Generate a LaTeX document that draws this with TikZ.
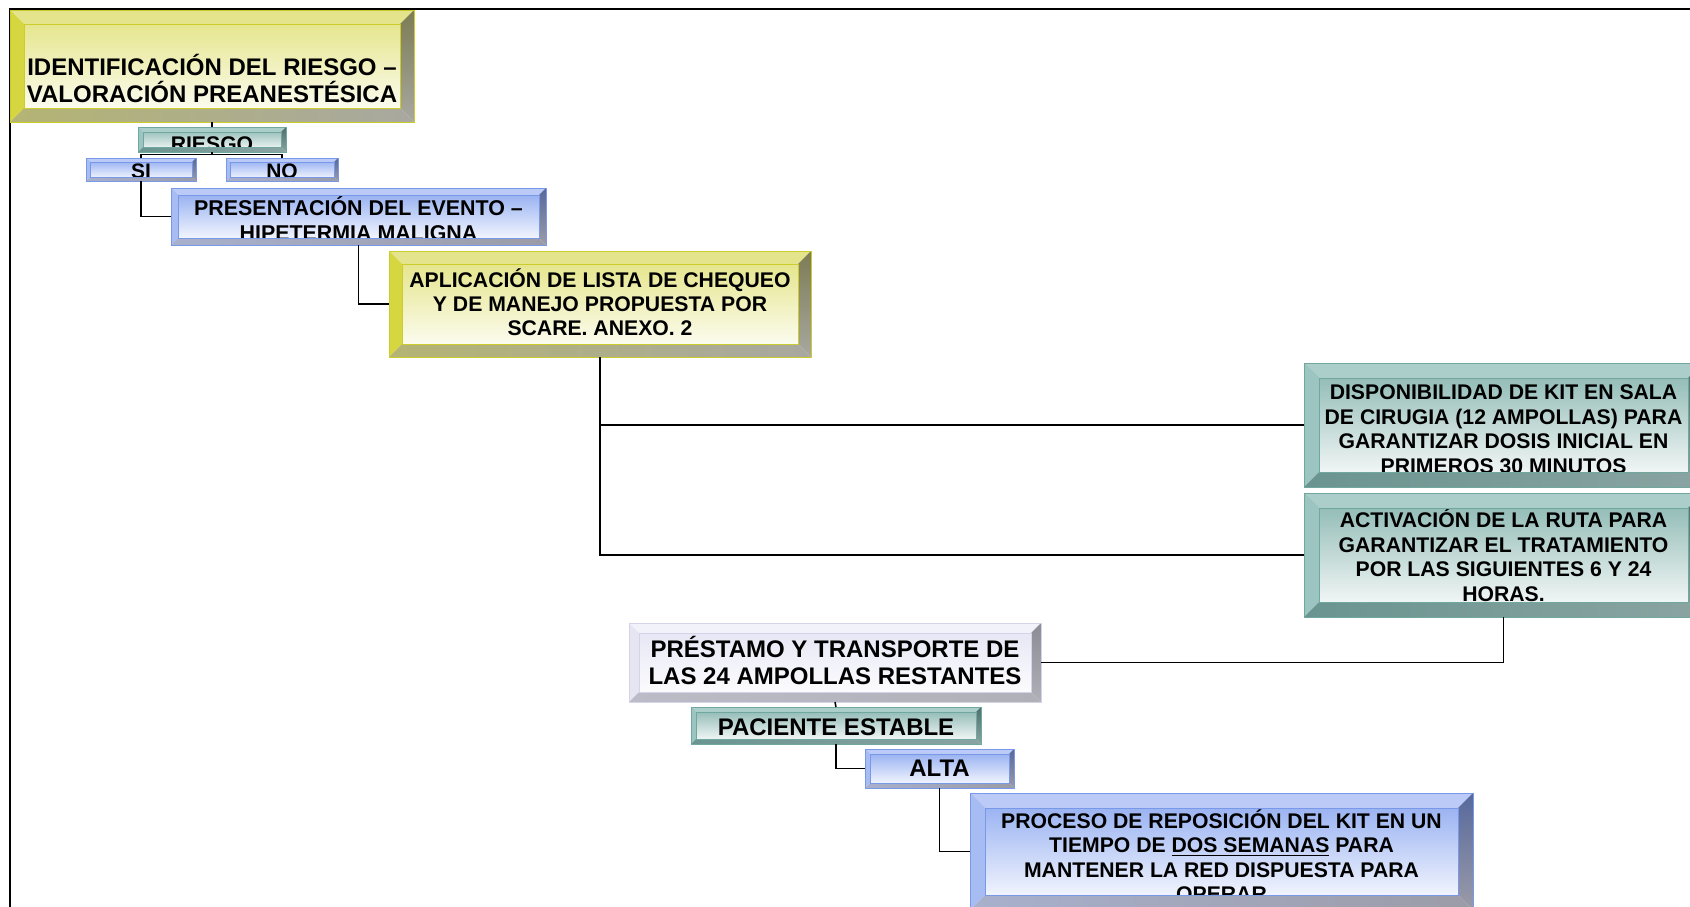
\documentclass[tikz,border=0pt]{standalone}
\usepackage{fontspec}
\setmainfont{Liberation Sans}

% box colours: F face, T top, L left, R/S right, B bottom, E edge
\definecolor{yelF}{HTML}{E2E27E}
\definecolor{yelT}{HTML}{E4E48C}
\definecolor{yelL}{HTML}{D6D640}
\definecolor{yelR}{HTML}{7C7C54}
\definecolor{yelS}{HTML}{A8A8A0}
\definecolor{yelB}{HTML}{B4B474}
\definecolor{yelE}{HTML}{CCCC2C}
\definecolor{teaF}{HTML}{86B4AE}
\definecolor{teaT}{HTML}{ACCECA}
\definecolor{teaL}{HTML}{9CC4C0}
\definecolor{teaR}{HTML}{4E706C}
\definecolor{teaS}{HTML}{8AA4A2}
\definecolor{teaB}{HTML}{6A9490}
\definecolor{teaE}{HTML}{70A8A0}
\definecolor{bluF}{HTML}{8CA8F0}
\definecolor{bluT}{HTML}{BCCAF8}
\definecolor{bluL}{HTML}{A8BCF4}
\definecolor{bluR}{HTML}{56689C}
\definecolor{bluS}{HTML}{9C9CA8}
\definecolor{bluB}{HTML}{A8B0CC}
\definecolor{bluE}{HTML}{7898E8}
\definecolor{lavF}{HTML}{E4E4F4}
\definecolor{lavT}{HTML}{F2F2FA}
\definecolor{lavL}{HTML}{E6E6F2}
\definecolor{lavR}{HTML}{8C8C94}
\definecolor{lavS}{HTML}{B0B0B8}
\definecolor{lavB}{HTML}{BCBCC8}
\definecolor{lavE}{HTML}{D4D4E8}

\begin{document}
\begin{tikzpicture}[x=0.5pt, y=-0.5pt,
    bw/.store in=\bw, bcol/.store in=\bcol,
    box/.style = {shape=rectangle, inner sep=0pt, outer sep=0pt,
      align=center, line width=0.4pt, text height=0pt, text depth=0pt, bw=5,
      path picture={
        \fill[\bcol T] (path picture bounding box.north west)
          -- (path picture bounding box.north east)
          -- ([shift={(-\bw,\bw)}]path picture bounding box.north east)
          -- ([shift={(\bw,\bw)}]path picture bounding box.north west) -- cycle;
        \fill[\bcol L] (path picture bounding box.north west)
          -- ([shift={(\bw,\bw)}]path picture bounding box.north west)
          -- ([shift={(\bw,-\bw)}]path picture bounding box.south west)
          -- (path picture bounding box.south west) -- cycle;
      }},
    yelbox/.style = {box, bcol=yel, draw=yelE, top color=yelF, bottom color=white},
    teabox/.style = {box, bcol=tea, draw=teaE, top color=teaF, bottom color=white},
    blubox/.style = {box, bcol=blu, draw=bluE, top color=bluF, bottom color=white},
    lavbox/.style = {box, bcol=lav, draw=lavE, top color=lavF, bottom color=white},
    link/.style = {draw, line width=0.75pt}]
  \useasboundingbox (0,0) rectangle (1690,906);
  \clip (0,0) rectangle (1690,906);
  \draw[line width=1.1pt] (10,9) rectangle (1730,940);

  \node[yelbox, bw=14, minimum width=202pt, minimum height=56pt, text height=36pt,
    font=\bfseries\fontsize{12}{13.5}\selectfont] (ident) at (212,66)
    {IDENTIFICACIÓN DEL RIESGO –\\VALORACIÓN PREANESTÉSICA};
  \node[teabox, minimum width=74pt, minimum height=12.5pt, text height=12pt,
    font=\bfseries\fontsize{10.6}{12}\selectfont] (riesgo) at (212,139.5) {RIESGO};
  \node[blubox, bw=4, minimum width=55pt, minimum height=11.5pt, text height=9pt,
    font=\bfseries\fontsize{10.5}{12}\selectfont] (si) at (141,169.5) {SI};
  \node[blubox, bw=4, minimum width=56pt, minimum height=11.5pt, text height=9pt,
    font=\bfseries\fontsize{10.5}{12}\selectfont] (no) at (282,169.5) {NO};
  \node[blubox, bw=7, minimum width=187.5pt, minimum height=28.5pt, text height=24pt,
    font=\bfseries\fontsize{10.7}{12.5}\selectfont] (pres) at (358.5,216.5)
    {PRESENTACIÓN DEL EVENTO –\\HIPETERMIA MALIGNA};
  \node[yelbox, bw=13, minimum width=211pt, minimum height=53pt, text height=31.7pt,
    font=\bfseries\fontsize{10.6}{12.1}\selectfont] (aplic) at (600,304)
    {APLICACIÓN DE LISTA DE CHEQUEO\\Y DE MANEJO PROPUESTA POR\\SCARE. ANEXO. 2};
  \node[teabox, bw=15, minimum width=199.5pt, minimum height=62pt, text height=48pt,
    font=\bfseries\fontsize{10.6}{12.2}\selectfont] (disp) at (1503.5,425)
    {DISPONIBILIDAD DE KIT EN SALA\\DE CIRUGIA (12 AMPOLLAS) PARA\\GARANTIZAR DOSIS INICIAL EN\\PRIMEROS 30 MINUTOS};
  \node[teabox, bw=15, minimum width=199.5pt, minimum height=62pt, text height=46pt,
    font=\bfseries\fontsize{10.6}{12.2}\selectfont] (activ) at (1503.5,555)
    {ACTIVACIÓN DE LA RUTA PARA\\GARANTIZAR EL TRATAMIENTO\\POR LAS SIGUIENTES 6 Y 24\\HORAS.};
  \node[lavbox, bw=10, minimum width=206pt, minimum height=39.5pt, text height=22pt,
    font=\bfseries\fontsize{12}{13.5}\selectfont] (prest) at (835,662.5)
    {PRÉSTAMO Y TRANSPORTE DE\\LAS 24 AMPOLLAS RESTANTES};
  \node[teabox, minimum width=145pt, minimum height=18.5pt, text height=9.5pt,
    font=\bfseries\fontsize{12}{13.3}\selectfont] (pac) at (836,725.5) {PACIENTE ESTABLE};
  \node[blubox, minimum width=74.5pt, minimum height=19.5pt, text height=8.2pt,
    font=\bfseries\fontsize{12}{13.3}\selectfont] (alta) at (939.5,768.5) {ALTA};
  \node[blubox, bw=15, minimum width=251.5pt, minimum height=58.5pt, text height=50.4pt,
    font=\bfseries\fontsize{10.6}{12.3}\selectfont] (proc) at (1221.5,851.5)
    {PROCESO DE REPOSICIÓN DEL KIT EN UN\\TIEMPO DE \underline{DOS SEMANAS} PARA\\MANTENER LA RED DISPUESTA PARA\\OPERAR};

  % lower and right bevels over the text
  \foreach \n/\bw/\col in {ident/14/yel, riesgo/5/tea, si/4/blu, no/4/blu,
      pres/7/blu, aplic/13/yel, disp/15/tea, activ/15/tea, prest/10/lav,
      pac/5/tea, alta/5/blu, proc/15/blu}{
    \shade[top color=\col R, bottom color=\col S] (\n.north east) -- (\n.south east)
      -- ([shift={(-\bw,-\bw)}]\n.south east) -- ([shift={(-\bw,\bw)}]\n.north east) -- cycle;
    \shade[left color=\col B, right color=\col S] (\n.south west) -- (\n.south east)
      -- ([shift={(-\bw,-\bw)}]\n.south east) -- ([shift={(\bw,-\bw)}]\n.south west) -- cycle;
    \draw[\col E, line width=0.4pt] (\n.north west) rectangle (\n.south east);
    \draw[\col E, line width=0.3pt] ([shift={(\bw,\bw)}]\n.north west)
      rectangle ([shift={(-\bw,-\bw)}]\n.south east);
  }

  % connectors
  \path[link] (ident.south) -- (riesgo.north);
  \path[link] (riesgo.south) -- ++(0,2.5) -| (si.north);
  \path[link] (riesgo.south) ++(0,2.5) -| (no.north);
  \path[link] (si.south) |- (pres.west);
  \path[link] (pres.south) |- (aplic.west);
  \path[link] (aplic.south) |- (disp.west);
  \path[link] (aplic.south) |- (activ.west);
  \path[link] (activ.south) |- (prest.east);
  \path[link] (prest.south) -- (pac.north);
  \path[link] (pac.south) |- (alta.west);
  \path[link] (alta.south) |- (proc.west);
\end{tikzpicture}
\end{document}
